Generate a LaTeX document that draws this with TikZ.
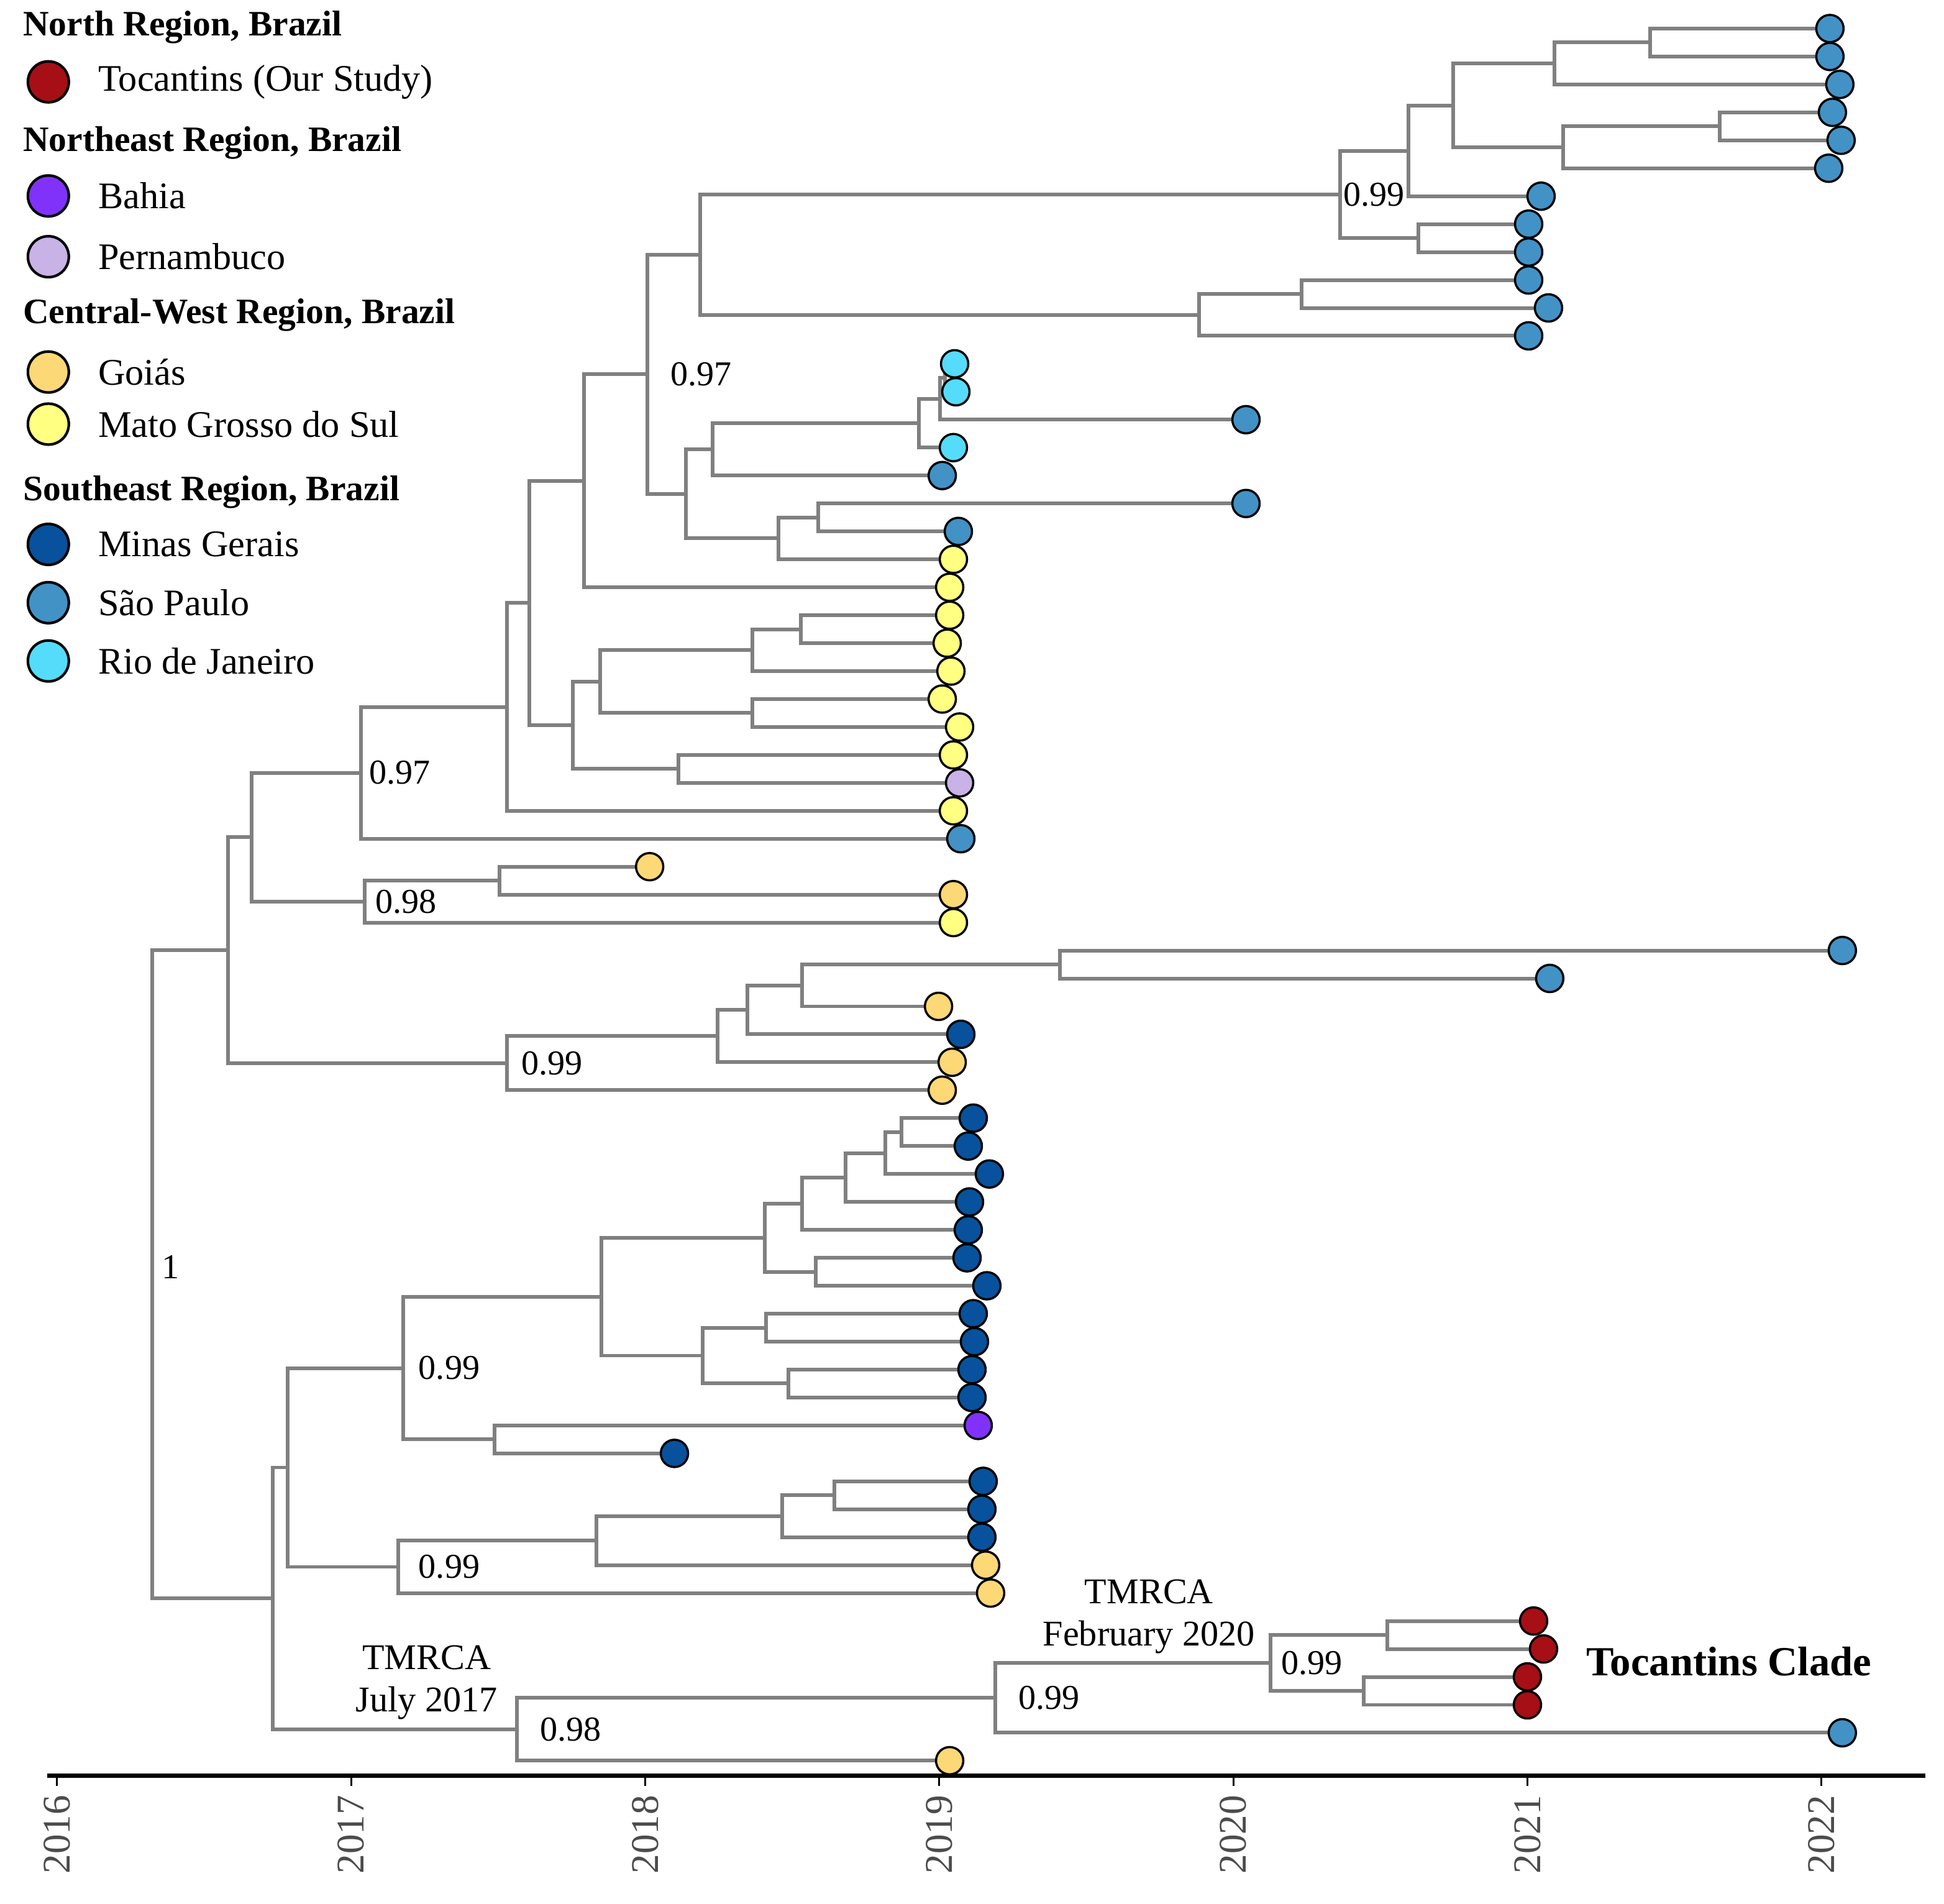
\documentclass[tikz,border=0pt]{standalone}
\usepackage{fontspec}
\setmainfont{Liberation Serif}
\usetikzlibrary{positioning, backgrounds, calc}

\definecolor{toc}{RGB}{165,15,21}
\definecolor{bah}{RGB}{128,50,250}
\definecolor{per}{RGB}{200,178,230}
\definecolor{goi}{RGB}{253,216,118}
\definecolor{mts}{RGB}{255,255,130}
\definecolor{mig}{RGB}{8,81,156}
\definecolor{sap}{RGB}{66,146,198}
\definecolor{rio}{RGB}{85,220,250}

\begin{document}
\begin{tikzpicture}[
  x=0.01cm, y=-0.01cm,
  leaf/.style={circle, draw, line width=.5pt, minimum size=.22cm, inner sep=0pt},
  legdot/.style={circle, draw, line width=.6pt, minimum size=.33cm, inner sep=0pt},
  twig/.style={draw=gray, line width=.85pt},
  lab/.style={inner sep=0pt, font=\fontsize{8}{9.6}\selectfont},
  note/.style={inner sep=0pt, align=center, font=\fontsize{8.3}{9.7}\selectfont},
  head/.style={anchor=west, inner sep=0pt, font=\fontsize{8.2}{10}\selectfont\bfseries},
  entry/.style={inner sep=0pt, font=\fontsize{8.6}{10}\selectfont},
  clade/.style={inner sep=0pt, font=\fontsize{9.5}{11}\selectfont\bfseries},
  year/.style={rotate=90, anchor=east, inner sep=0pt, text=black!70, font=\fontsize{9}{10}\selectfont}]

  \useasboundingbox (0,0) rectangle (1568,1535);

  \foreach \tx/\tc [count=\i] in {1476/sap, 1476/sap, 1484/sap, 1478/sap, 1485/sap, 1475/sap,
    1243/sap, 1233/sap, 1233/sap, 1233/sap, 1249/sap, 1233/sap,
    770/rio, 771/rio, 1005/sap, 769/rio, 760/sap, 1005/sap, 773/sap,
    769/mts, 766/mts, 766/mts, 764/mts, 767/mts, 760/mts, 774/mts, 769/mts, 774/per, 769/mts, 775/sap,
    524/goi, 769/goi, 769/mts,
    1486/sap, 1250/sap, 757/goi, 775/mig, 768/goi, 760/goi,
    785/mig, 781/mig, 798/mig, 782/mig, 781/mig, 780/mig, 796/mig, 785/mig, 786/mig, 784/mig, 784/mig,
    789/bah, 544/mig, 793/mig, 792/mig, 792/mig, 795/goi, 799/goi,
    1237/toc, 1245/toc, 1232/toc, 1232/toc, 1486/sap, 766/goi}
    \node[leaf, fill=\tc] (t\i) at (\tx, {23+(\i-1)*22.53}) {};

  \foreach \pn/\px/\ka/\kb in {a1/1331/t1/t2, a2/1254/a1/t3, a3/1387/t4/t5, a4/1261/a3/t6,
    a5/1172/a2/a4, a6/1136/a5/t7, a7/1144/t8/t9, a8/1081/a6/a7, a9/1050/t10/t11,
    a10/967/a9/t12, a11/565/a8/a10,
    b1/762/t13/t14, b2/758/b1/t15, b3/741/b2/t16, b4/575/b3/t17, b5/660/t18/t19,
    b6/628/b5/t20, b7/553/b4/b6, b8/522/a11/b7, b9/471/b8/t21,
    c1/646/t22/t23, c2/607/c1/t24, c3/607/t25/t26, c4/484/c2/c3, c5/547/t27/t28,
    c6/462/c4/c5, c7/427/b9/c6, c8/409/c7/t29, c9/291/c8/t30,
    d1/403/t31/t32, d2/294/d1/t33, d3/203/c9/d2,
    e1/855/t34/t35, e2/647/e1/t36, e3/603/e2/t37, e4/579/e3/t38, e5/409/e4/t39, e6/184/d3/e5,
    f1/727/t40/t41, f2/714/f1/t42, f3/682/f2/t43, f4/647/f3/t44, f5/658/t45/t46,
    f6/617/f4/f5, f7/618/t47/t48, f8/636/t49/t50, f9/567/f7/f8, f10/485/f6/f9,
    f11/399/t51/t52, f12/325/f10/f11,
    g1/673/t53/t54, g2/631/g1/t55, g3/481/g2/t56, g4/321/g3/t57, g5/232/f12/g4,
    h1/1119/t58/t59, h2/1100/t60/t61, h3/1025/h1/h2, h4/803/h3/t62, h5/417/h4/t63,
    h6/220/g5/h5, r/123/e6/h6}{
    \path ($(\ka)!.5!(\kb)$) coordinate (mid);
    \coordinate (\pn) at (\px,0 |- mid);
    \begin{pgfonlayer}{background}
      \draw[twig] (\ka) -| (\pn) |- (\kb);
    \end{pgfonlayer}
  }

  \node[lab, right=.2mm of a8] {0.99};
  \node[lab, right=1.8mm of b8] {0.97};
  \node[lab, right=.6mm of c9] {0.97};
  \node[lab, right=.8mm of d2] {0.98};
  \node[lab, right=1.1mm of e5] {0.99};
  \node[lab, right=1.2mm of f12] {0.99};
  \node[lab, right=1.6mm of g4] {0.99};
  \node[lab, right=1.8mm of h5] {0.98};
  \node[lab, right=1.8mm of h4] {0.99};
  \node[lab, right=.8mm of h3] {0.99};
  \node[lab, right=.7mm of r, yshift=.6mm] {1};

  \node[note, above left=.07cm and .15cm of h5] {TMRCA\\July 2017};
  \node[note, above left=.07cm and .12cm of h3] {TMRCA\\February 2020};
  \node[clade, right=2.2mm of t59, yshift=-1mm] {Tocantins Clade};

  \node[head] at (18,22) {North Region, Brazil};
  \node[head] at (18,115) {Northeast Region, Brazil};
  \node[head] at (18,254) {Central-West Region, Brazil};
  \node[head] at (18,397) {Southeast Region, Brazil};
  \foreach \c/\yy/\txt [count=\k] in {toc/66/{Tocantins (Our Study)}, bah/158/Bahia,
    per/207/Pernambuco, goi/300/Goiás, mts/342/Mato Grosso do Sul,
    mig/439/Minas Gerais, sap/486/São Paulo, rio/533/Rio de Janeiro}{
    \node[legdot, fill=\c] (k\k) at (39,\yy) {};
    \node[entry, right=2.2mm of k\k] {\txt};
  }

  \draw[line width=.9pt] (38,1432) coordinate (ax0) -- (1553,1432) coordinate (ax1);
  \foreach \yr [count=\k from 0] in {2016,...,2022}{
    \coordinate (yr\yr) at ({46+237.2*\k},1432);
    \draw[line width=.4pt] (yr\yr) -- ++(0,8);
    \node[year] at ($(yr\yr)+(0,15)$) {\yr};
  }
\end{tikzpicture}
\end{document}
